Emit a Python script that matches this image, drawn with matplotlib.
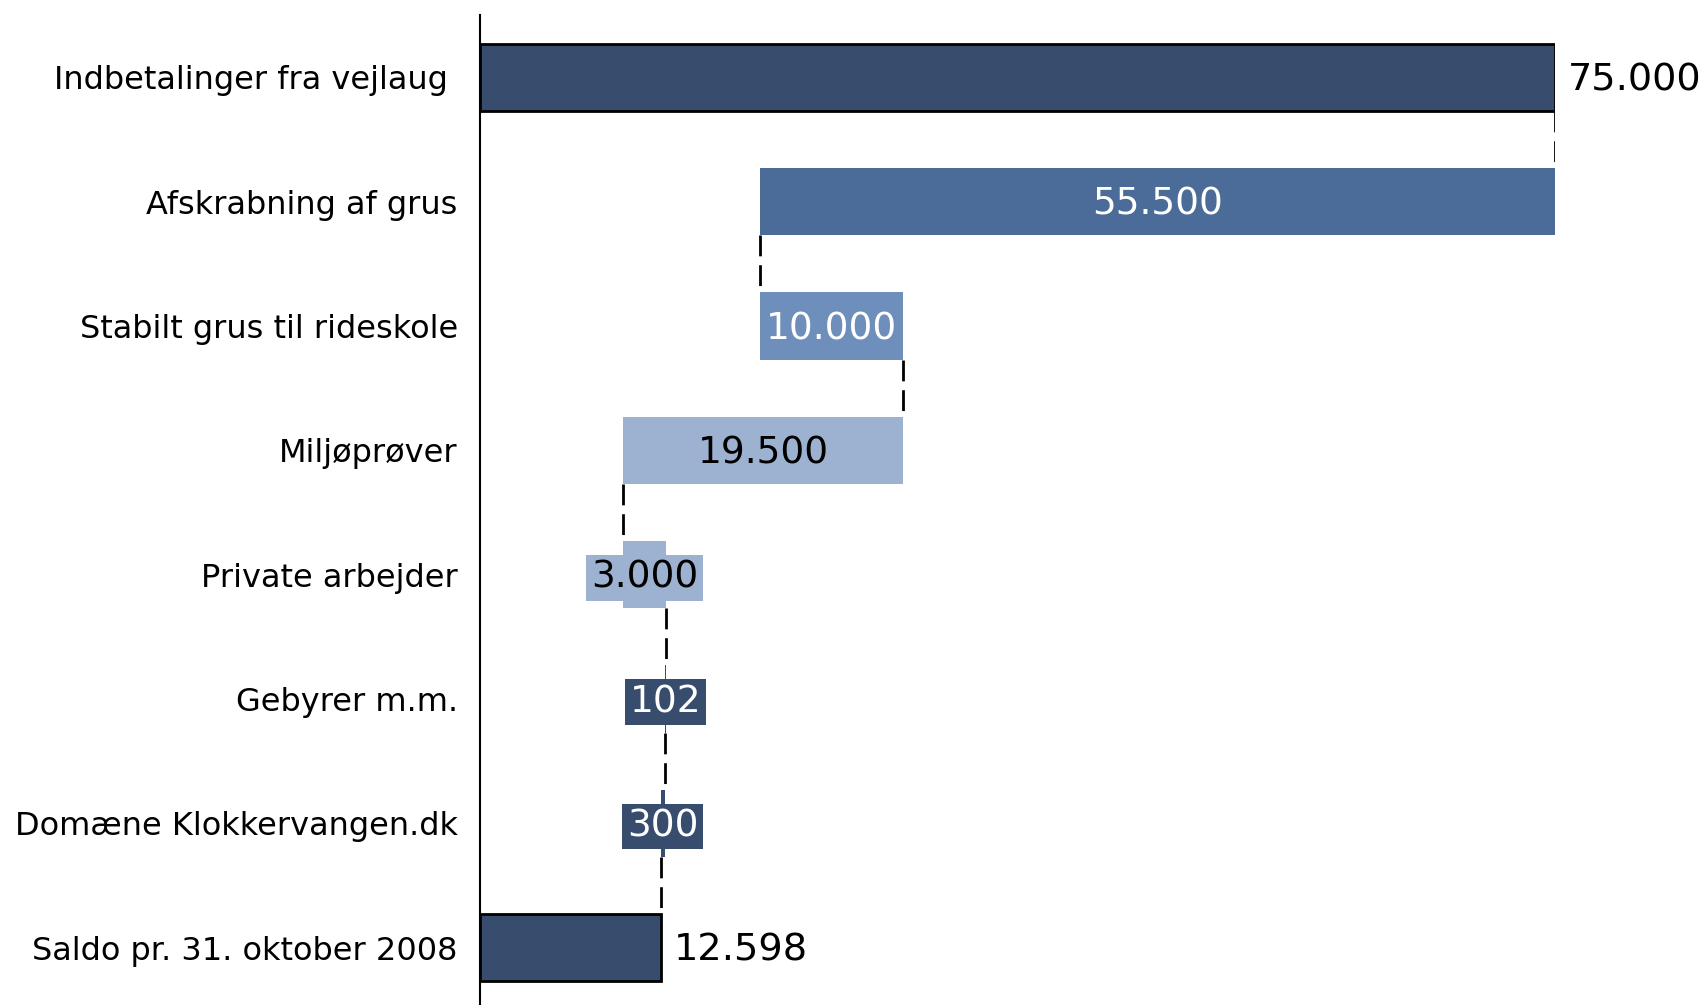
import matplotlib
matplotlib.use("Agg")
import matplotlib.pyplot as plt

# Waterfall data (DKK)
categories = [
    "Indbetalinger fra vejlaug ",
    "Afskrabning af grus",
    "Stabilt grus til rideskole",
    "Miljøprøver",
    "Private arbejder",
    "Gebyrer m.m.",
    "Domæne Klokkervangen.dk",
    "Saldo pr. 31. oktober 2008",
]
changes = [75000, -55500, 10000, -19500, 3000, -102, -300, 12598]
value_labels = ["75.000", "55.500", "10.000", "19.500", "3.000", "102", "300", "12.598"]
is_total = [True, False, False, False, False, False, False, True]

dark = "#384D6E"
medium = "#4B6C98"
light = "#6E8EBB"
lightest = "#9DB1D0"
bar_colors = [dark, medium, light, lightest, lightest, dark, dark, dark]
text_colors = ["black", "white", "white", "black", "black", "white", "white", "black"]

fig = plt.figure(figsize=(17.06, 10.05), dpi=100)
ax = fig.add_axes([0.2814, 0.0, 0.6301, 0.985])

bar_h = 0.54
running = 0
lefts, rights = [], []
for i, ch in enumerate(changes):
    if is_total[i]:
        left, right = 0, ch
        running = ch
    else:
        start = running
        running = running + ch
        left, right = min(start, running), max(start, running)
    lefts.append(left)
    rights.append(right)
    ax.barh(i, right - left, left=left, height=bar_h, color=bar_colors[i],
            edgecolor="black" if is_total[i] else "none",
            linewidth=2 if is_total[i] else 0, zorder=2)

# connectors between bars
level = 0
for i, ch in enumerate(changes[:-1]):
    level = ch if is_total[i] else level + ch
    ax.plot([level, level], [i + bar_h / 2, i + 1 - bar_h / 2], color="black",
            lw=2.0, linestyle=(0, (7.5, 3.2)), zorder=3)

# value labels
for i, lab in enumerate(value_labels):
    if is_total[i]:
        ax.text(rights[i] + 900, i + 0.025, lab, ha="left", va="center",
                fontsize=27.5, color="black", zorder=5)
    else:
        ax.text((lefts[i] + rights[i]) / 2, i + 0.025, lab, ha="center", va="center",
                fontsize=27, color=text_colors[i], zorder=5,
                bbox=dict(boxstyle="square,pad=0.13", facecolor=bar_colors[i],
                          edgecolor="none"))

ax.set_xlim(0, 75000)
ax.set_ylim(7.46, -0.5)
ax.set_yticks(range(len(categories)))
ax.set_yticklabels(categories, fontsize=23)
ax.tick_params(axis="y", length=0, pad=16)
ax.set_xticks([])
for s in ["top", "right", "bottom"]:
    ax.spines[s].set_visible(False)
ax.spines["left"].set_linewidth(1.5)

fig.savefig("out.png", dpi=100)
